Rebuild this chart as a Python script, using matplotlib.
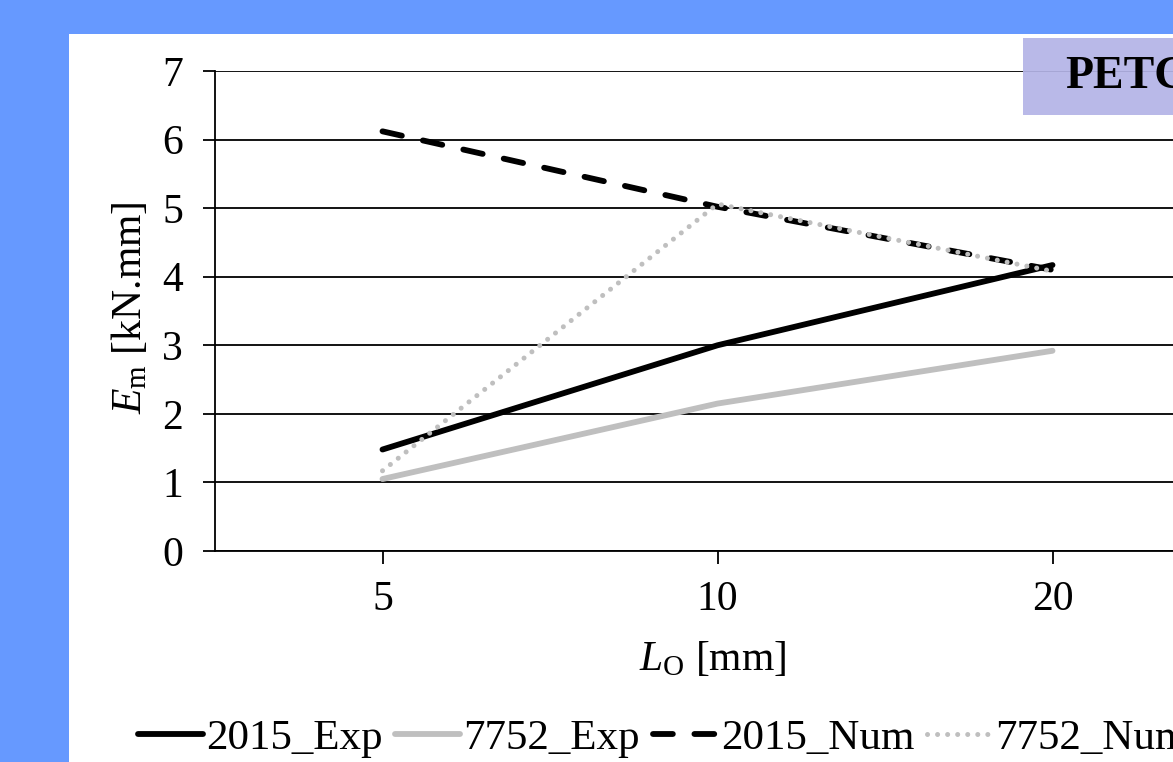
import matplotlib.pyplot as plt
from matplotlib.patches import Rectangle

plt.rcParams['font.family'] = ['Liberation Serif', 'DejaVu Serif']
plt.rcParams['mathtext.fontset'] = 'custom'
plt.rcParams['mathtext.rm'] = 'Liberation Serif'
plt.rcParams['mathtext.it'] = 'Liberation Serif:italic'

lengths = ['5', '10', '20']
exp_2015 = [1.48, 3.00, 4.17]
exp_7752 = [1.05, 2.15, 2.92]
num_2015 = [6.12, 5.02, 4.10]
num_7752 = [1.17, 5.06, 4.08]

fig = plt.figure(figsize=(11.73, 7.62), dpi=100)
fig.patch.set_facecolor('#6699FF')

# white chart panel
fig.patches.append(Rectangle((69 / 1173, 0), 1.0, 1 - 34 / 762,
                             transform=fig.transFigure, facecolor='white',
                             edgecolor='none', zorder=-1))

ax = fig.add_axes([215 / 1173, 211 / 762, 1340 / 1173, 480 / 762])
ax.set_facecolor('none')

x = list(range(len(lengths)))
ax.plot(x, exp_2015, color='black', lw=4.2, solid_capstyle='round', label='2015_Exp', zorder=3)
ax.plot(x, exp_7752, color='#BFBFBF', lw=4.2, solid_capstyle='round', label='7752_Exp', zorder=3)
ax.plot(x, num_2015, color='black', lw=4.2, dashes=(3.4, 3.7), dash_capstyle='round',
        label='2015_Num', zorder=4)
ax.plot(x, num_7752, color='#BFBFBF', lw=3.6, dashes=(0.01, 2.0), dash_capstyle='round',
        label='7752_Num', zorder=5)

ax.set_xlim(-0.5, 3.5)
ax.set_ylim(0, 7)
ax.set_xticks(x)
ax.set_xticklabels(lengths)
ax.set_yticks(range(0, 8))
ax.yaxis.grid(True, color='black', lw=1.3)
ax.set_axisbelow(True)
for side in ['top', 'right']:
    ax.spines[side].set_visible(False)
for side in ['left', 'bottom']:
    ax.spines[side].set_linewidth(1.3)
ax.tick_params(axis='both', labelsize=30, width=1.3, length=9, direction='out')
ax.tick_params(axis='y', pad=14)
ax.tick_params(axis='x', pad=12)

ax.set_ylabel(r'$E_\mathrm{m}$ [kN.mm]', fontsize=30)
ax.yaxis.set_label_coords(-(215 - 130) / 1340, (551 - 308) / 480)
ax.yaxis.label.set_va('center')
ax.set_xlabel(r'$L_\mathrm{O}$ [mm]', fontsize=30)
ax.xaxis.set_label_coords((713 - 215) / 1340, -(660 - 551) / 480)
ax.xaxis.label.set_va('center')

# material label box
fig.patches.append(Rectangle((1023 / 1173, 1 - 115 / 762), 0.2, 77 / 762,
                             transform=fig.transFigure, facecolor='#B3B3E6',
                             edgecolor='none', alpha=0.92, zorder=5))
fig.text(1065 / 1173, 1 - 77 / 762, 'PETG', fontsize=33, fontweight='bold',
         va='center', ha='left', zorder=6)

fig.legend(loc='center left', bbox_to_anchor=(138 / 1173, 24 / 762), ncol=4,
           frameon=False, fontsize=31, handlelength=1.5, handletextpad=0.08,
           columnspacing=0.3, borderpad=0, borderaxespad=0)

fig.savefig('out.png', dpi=100, facecolor=fig.get_facecolor())
